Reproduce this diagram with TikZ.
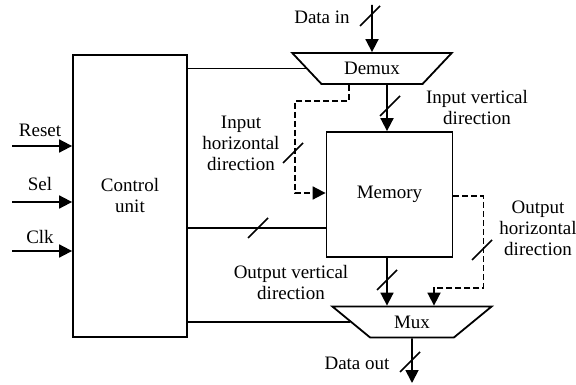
\documentclass[tikz,border=0pt]{standalone}
\usepackage{fontspec}
\setmainfont{Liberation Serif}
\usetikzlibrary{arrows.meta,shapes.geometric}
\begin{document}
\begin{tikzpicture}[x=1pt,y=-1pt,
  every node/.style={font=\fontsize{19}{21}\selectfont},
  box/.style={draw, line width=1.8pt, inner sep=0pt},
  trap/.style={draw, line width=1.8pt, trapezium, shape border rotate=180,
    trapezium stretches=true, minimum width=160pt, minimum height=31pt,
    trapezium angle=38, inner sep=0pt},
  wire/.style={line width=1.8pt},
  tip/.style={-{Triangle[length=13pt,width=13pt]}},
  arr/.style={wire, tip},
  dwire/.style={line width=1.8pt, dash pattern=on 6pt off 3pt},
  lbl/.style={align=center, inner sep=0pt},
  bus/.pic={\draw[line width=1.6pt] (-10,10) -- (10,-10);}
]
\useasboundingbox (0,0) rectangle (576,385);

% blocks
\node[box, minimum width=114pt, minimum height=282pt, align=center] (cu) at (130,196) {Control\\unit};
\node[box, minimum width=126pt, minimum height=125pt] (mem) at (389.5,194.5) {Memory};
\node[trap] (demux) at (372,68.5) {Demux};
\node[trap] (mux) at (412,322) {Mux};

% control inputs
\coordinate (rs) at (12,146);
\coordinate (sl) at (12,202);
\coordinate (ck) at (12,251);
\draw[arr] (rs) -- (rs -| cu.west);
\draw[arr] (sl) -- (sl -| cu.west);
\draw[arr] (ck) -- (ck -| cu.west);
\node[lbl] (rsl) at (40,130) {Reset};
\node[lbl] (sll) at (40,184) {Sel};
\node[lbl] (ckl) at (40,237) {Clk};

% control outputs
\draw[wire] (demux.west) -- (demux.west -| cu.east);
\coordinate (m2) at ([yshift=-33.5pt]mem.west);
\draw[wire] (m2) -- (m2 -| cu.east);
\draw[wire] (mux.west) -- (mux.west -| cu.east);

% data in
\coordinate (din) at (372,5);
\draw[arr] (din) -- (demux.north);
\node[lbl] (dinl) at (322,17) {Data in};

% demux to memory
\coordinate (dv) at ([xshift=15pt]demux.south);
\draw[arr] (dv) -- (dv |- mem.north);
\coordinate (dh) at ([xshift=-23pt]demux.south);
\coordinate (mh) at ([yshift=1.5pt]mem.west);
\draw[dwire, tip] (dh) -- ++(0,16) -- ++(-54,0) |- (mh);

% memory to mux
\coordinate (mo) at ([xshift=-2.5pt]mem.south);
\draw[arr] (mo) -- (mo |- mux.north);
\coordinate (mr) at ([yshift=-1.5pt]mem.east);
\draw[dwire, tip] (mr) -- ++(30,0) -- ++(0,92) -| ([xshift=22pt]mux.north);

% data out
\coordinate (dout) at (412,383);
\draw[arr] (mux.south) -- (dout);
\node[lbl] (doutl) at (357,363) {Data out};

% bus marks
\pic at (370,16) {bus};
\pic at (390,106) {bus};
\pic at (293,153) {bus};
\pic at (258,228) {bus};
\pic at (387,280) {bus};
\pic at (482,250) {bus};
\pic at (410,362) {bus};

% labels
\node[lbl] (ivd) at (477,107.5) {Input vertical\\direction};
\node[lbl] (ihd) at (241,143) {Input\\horizontal\\direction};
\node[lbl] (ohd) at (538,228) {Output\\horizontal\\direction};
\node[lbl] (ovd) at (291,283) {Output vertical\\direction};
\end{tikzpicture}
\end{document}
